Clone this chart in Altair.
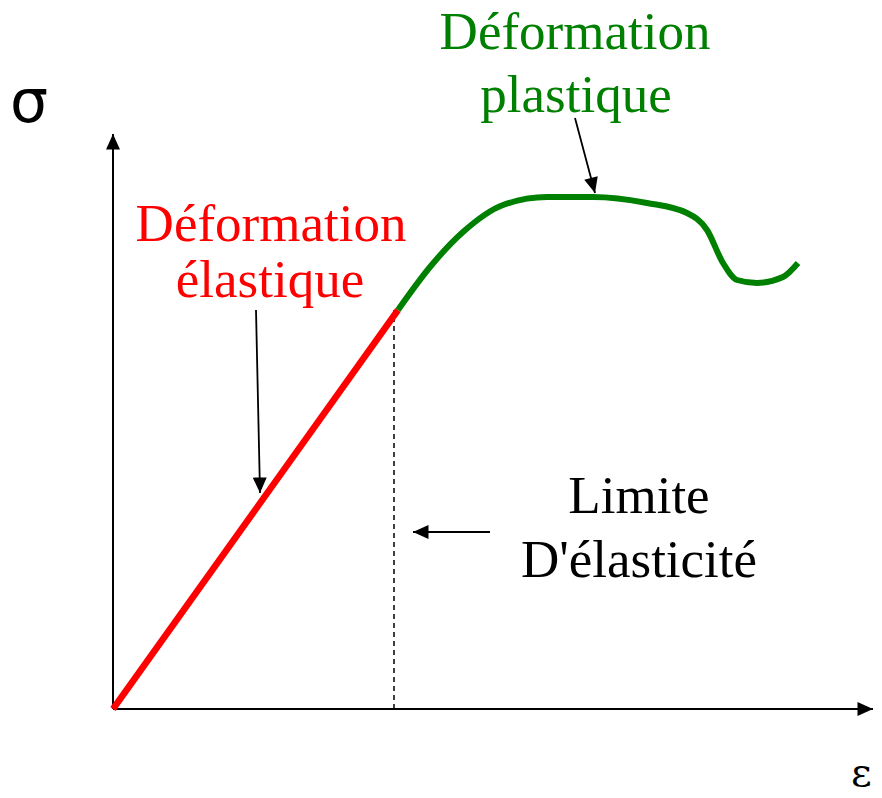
import altair as alt
import pandas as pd

# Elastic (linear) part of the stress-strain curve
red_x = [0, 285]
red_y = [0, 399]

# Plastic part
green_x = [285, 317, 350, 390, 434, 480, 534, 574, 594, 610, 624, 644, 670, 685]
green_y = [399, 442, 477, 504, 512, 512, 506, 496, 479, 446, 429, 426, 432, 446]

# Elastic limit (dashed)
limit_x = [281, 281]
limit_y = [0, 399]

# Axes (start -> arrow tip)
axis_x1 = [0, 0]
axis_y1 = [0, 0]
axis_x2 = [760, 0]
axis_y2 = [0, 575]
axis_angle = [90, 0]

# Annotation arrows (start -> tip)
arr_x1 = [143, 462, 377]
arr_y1 = [399, 591, 177]
arr_x2 = [147, 482, 300]
arr_y2 = [216, 516, 177]
arr_angle = [179, 165, 270]

# Texts
txt = ["Déformation", "élastique", "Déformation", "plastique", "Limite", "D'élasticité"]
txt_x = [158, 157, 462, 463, 526, 526]
txt_y = [468, 412, 660, 597, 196, 132]
txt_col = ["#ff0000", "#ff0000", "#008000", "#008000", "#000000", "#000000"]

sym = ["σ", "ε"]
sym_x = [-103, 738]
sym_y = [587, -77]

xs = alt.Scale(domain=[-105, 761], nice=False, zero=False)
ys = alt.Scale(domain=[-81, 701], nice=False, zero=False)


def X(f="x"):
    return alt.X(f"{f}:Q", scale=xs, axis=None)


def Y(f="y"):
    return alt.Y(f"{f}:Q", scale=ys, axis=None)


red_df = pd.DataFrame({"x": red_x, "y": red_y})
green_df = pd.DataFrame({"x": green_x, "y": green_y})
lim_df = pd.DataFrame({"x": limit_x, "y": limit_y})
ax_df = pd.DataFrame({"x": axis_x1, "y": axis_y1, "x2": axis_x2, "y2": axis_y2, "a": axis_angle})
ar_df = pd.DataFrame({"x": arr_x1, "y": arr_y1, "x2": arr_x2, "y2": arr_y2, "a": arr_angle})
tx_df = pd.DataFrame({"t": txt, "x": txt_x, "y": txt_y, "c": txt_col})

head = "M0,0L-0.9,2L0.9,2Z"

axes = alt.Chart(ax_df).mark_rule(color="black", strokeWidth=2).encode(
    x=X(), y=Y(), x2="x2:Q", y2="y2:Q")
axes_heads = alt.Chart(ax_df).mark_point(
    shape=head, filled=True, color="black", size=240, opacity=1, strokeWidth=0
).encode(x=X("x2"), y=Y("y2"), angle=alt.Angle("a:Q", scale=None))

limit = alt.Chart(lim_df).mark_line(color="black", strokeWidth=1.5, strokeDash=[5, 4]).encode(
    x=X(), y=Y())

red = alt.Chart(red_df).mark_line(color="#ff0000", strokeWidth=6.5, strokeCap="butt").encode(
    x=X(), y=Y())
green = alt.Chart(green_df).mark_line(
    color="#008000", strokeWidth=6, interpolate="monotone", strokeCap="butt"
).encode(x=X(), y=Y())

arrows = alt.Chart(ar_df).mark_rule(color="black", strokeWidth=1.8).encode(
    x=X(), y=Y(), x2="x2:Q", y2="y2:Q")
arrow_heads = alt.Chart(ar_df).mark_point(
    shape=head, filled=True, color="black", size=240, opacity=1, strokeWidth=0
).encode(x=X("x2"), y=Y("y2"), angle=alt.Angle("a:Q", scale=None))

texts = alt.Chart(tx_df).mark_text(
    font="Liberation Serif", fontSize=53, align="center", baseline="alphabetic"
).encode(x=X(), y=Y(), text="t:N", color=alt.Color("c:N", scale=None))

sym_df = pd.DataFrame({"t": sym, "x": sym_x, "y": sym_y})
sym1 = alt.Chart(sym_df.iloc[[0]]).mark_text(
    font="DejaVu Sans", fontSize=60, align="left", baseline="alphabetic", color="black"
).encode(x=X(), y=Y(), text="t:N")
sym2 = alt.Chart(sym_df.iloc[[1]]).mark_text(
    font="DejaVu Serif", fontSize=40, align="left", baseline="alphabetic", color="black"
).encode(x=X(), y=Y(), text="t:N")

chart = alt.layer(
    axes, axes_heads, limit, red, green, arrows, arrow_heads, texts, sym1, sym2
).properties(
    width=866, height=782,
    autosize=alt.AutoSizeParams(type="none"),
    padding=0,
).configure_view(stroke=None)

chart.save("out.html", embed_options={"renderer": "svg", "actions": False})
